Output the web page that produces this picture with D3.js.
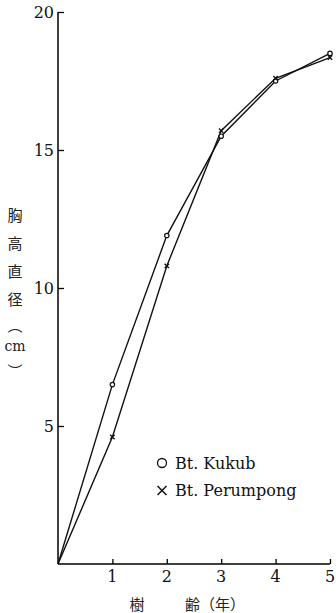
<!DOCTYPE html>
<html>
<head>
<meta charset="utf-8">
<script src="https://cdn.jsdelivr.net/npm/d3@7"></script>
<style>
  body { margin: 0; background: #fff; }
  svg { display: block; }
  .tick-num { font-family: "DejaVu Serif", "Liberation Serif", serif; font-size: 16px; fill: #111; }
  .lbl { font-family: "Noto Sans CJK JP", sans-serif; font-size: 15px; fill: #222; }
  .leg { font-family: "DejaVu Serif", "Liberation Serif", serif; font-size: 16px; fill: #111; }
</style>
</head>
<body>
<div class="graph_container"></div>
<script>
// data
const years = [0, 1, 2, 3, 4, 5];
const kukub = [0, 6.5, 11.9, 15.5, 17.5, 18.5];
const perumpong = [0, 4.6, 10.8, 15.7, 17.6, 18.35];
const xTicks = [1, 2, 3, 4, 5];
const yTicks = [5, 10, 15, 20];
const yLabelChars = ["胸", "高", "直", "径", "︵", "cm", "︶"];
const yLabelPos = [214, 242, 270, 298, 324, 346, 370];

const W = 336, H = 613;
const x0 = 58, x1 = 330, y0 = 564, y1 = 12;

const svg = d3.select(".graph_container").append("svg").attr("width", W).attr("height", H);

const xScale = d3.scaleLinear().domain([0, 5]).range([x0, x1]);
const yScale = d3.scaleLinear().domain([0, 20]).range([y0, y1]);

// axes (ticks pointing inward)
const xAxis = d3.axisBottom(xScale).tickValues(xTicks).tickSize(-5).tickFormat("");
const yAxis = d3.axisLeft(yScale).tickValues(yTicks).tickSize(-6).tickFormat("");

svg.append("g").attr("transform", "translate(0," + y0 + ")").call(xAxis)
  .call(g => g.select(".domain").attr("d", "M" + x0 + ",0H" + x1).attr("stroke-width", 1.5))
  .call(g => g.selectAll(".tick line").attr("stroke-width", 1.3));
svg.append("g").attr("transform", "translate(" + x0 + ",0)").call(yAxis)
  .call(g => g.select(".domain").attr("d", "M0," + y0 + "V" + y1).attr("stroke-width", 1.5))
  .call(g => g.selectAll(".tick line").attr("stroke-width", 1.3));

// tick labels
svg.selectAll(".xnum").data(xTicks).join("text").attr("class", "tick-num")
  .attr("x", d => xScale(d)).attr("y", y0 + 18).attr("text-anchor", "middle").text(d => d);
svg.selectAll(".ynum").data(yTicks).join("text").attr("class", "tick-num")
  .attr("x", x0 - 4).attr("y", d => yScale(d) + 6).attr("text-anchor", "end").text(d => d);

// lines
const line = d3.line().x((d, i) => xScale(years[i])).y(d => yScale(d));
[kukub, perumpong].forEach(s => {
  svg.append("path").attr("d", line(s)).attr("fill", "none").attr("stroke", "#111").attr("stroke-width", 1.4);
});

// markers
svg.selectAll(".mk").data(kukub.slice(1)).join("circle")
  .attr("cx", (d, i) => xScale(years[i + 1])).attr("cy", d => yScale(d)).attr("r", 2.2)
  .attr("fill", "#fff").attr("stroke", "#111").attr("stroke-width", 1.2);
svg.selectAll(".mp").data(perumpong.slice(1)).join("path")
  .attr("transform", (d, i) => "translate(" + xScale(years[i + 1]) + "," + yScale(d) + ")")
  .attr("d", "M-2.2,-2.2L2.2,2.2M-2.2,2.2L2.2,-2.2").attr("stroke", "#111").attr("stroke-width", 1.4);

// legend
const leg = svg.append("g").attr("transform", "translate(162,0)");
leg.append("circle").attr("cx", 0).attr("cy", 463).attr("r", 4.5).attr("fill", "none").attr("stroke", "#111").attr("stroke-width", 1.3);
leg.append("text").attr("class", "leg").attr("x", 13).attr("y", 469).text("Bt. Kukub");
leg.append("path").attr("d", "M-4.5,486L4.5,495M-4.5,495L4.5,486").attr("stroke", "#111").attr("stroke-width", 1.5);
leg.append("text").attr("class", "leg").attr("x", 13).attr("y", 496).text("Bt. Perumpong");

// y title (vertical, stacked)
svg.selectAll(".yl").data(yLabelChars).join("text").attr("class", "lbl")
  .attr("x", 15).attr("y", (d, i) => yLabelPos[i]).attr("text-anchor", "middle")
  .attr("dominant-baseline", "central")
  .style("font-family", d => d === "cm" ? "DejaVu Serif, serif" : null)
  .style("font-size", d => d === "cm" ? "14px" : null)
  .text(d => d);

// x title
svg.append("text").attr("class", "lbl").attr("x", 137).attr("y", 610).attr("text-anchor", "middle").text("樹");
svg.append("text").attr("class", "lbl").attr("x", 193).attr("y", 610).attr("text-anchor", "start").attr("dx", -8).text("齢（年）");
</script>
</body>
</html>
